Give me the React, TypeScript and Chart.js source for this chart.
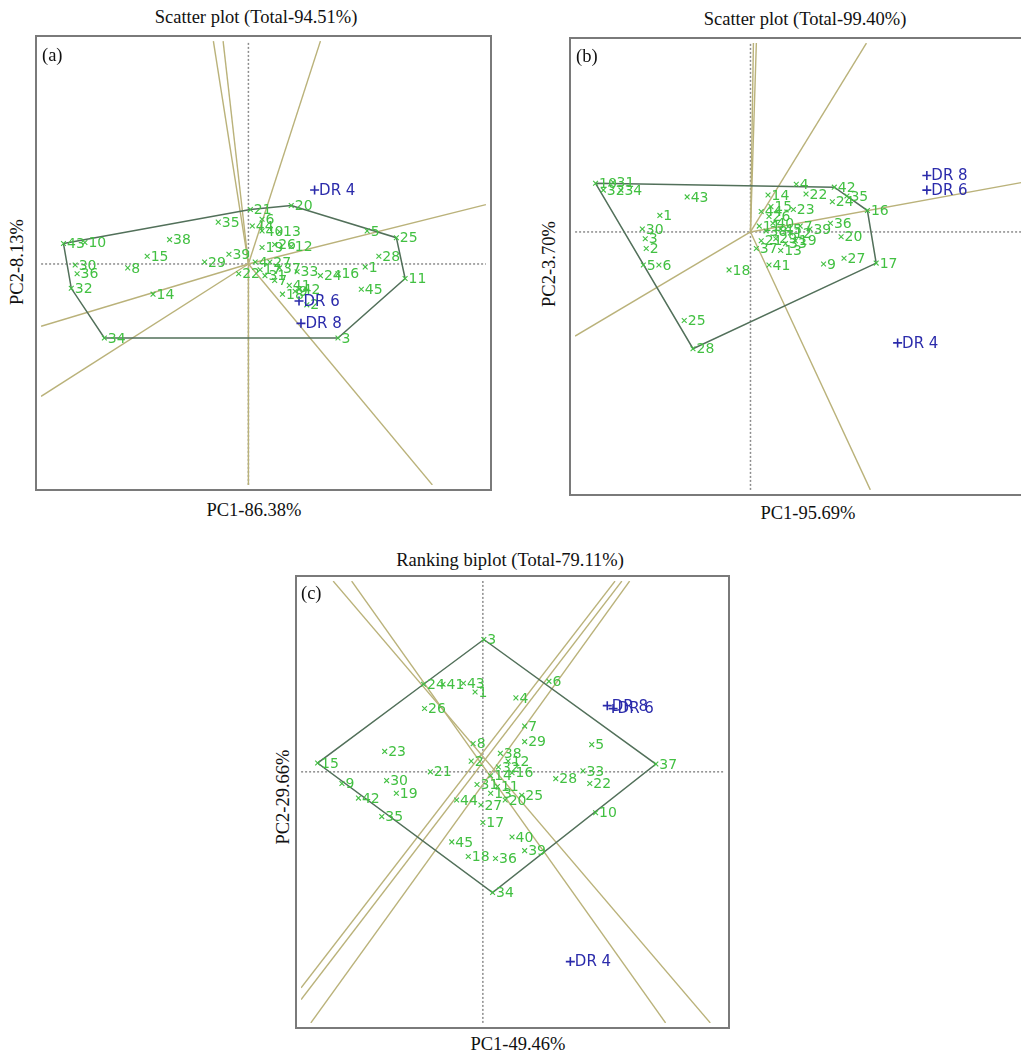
import React, { useEffect, useRef } from "react";
import { Chart, registerables } from "chart.js";

Chart.register(...registerables);

// ---------- Panel (a): scatter plot, PC1 86.38% / PC2 8.13% ----------
const A_GENOTYPES = ["43","10","30","36","32","8","15","38","29","39","14","34","35","21","6","20","40","13","19","26","12","5","25","28","11","1","45","3","33","24","16","27","37","31","41","9","2","4","7","17","22","18","42","44"];
const A_G_PC1 = [-19.0,-16.8,-17.8,-17.6,-18.2,-12.4,-10.4,-8.1,-4.5,-2.0,-9.8,-14.8,-3.1,0.2,1.4,4.4,1.4,3.2,1.4,2.7,4.4,12.2,15.2,13.4,16.1,12.0,11.6,9.2,5.0,7.4,9.2,2.2,3.2,1.7,4.2,4.8,6.0,0.7,2.7,1.2,-1.0,3.5,5.2,0.4];
const A_G_PC2 = [2.1,2.2,-0.1,-1.0,-2.5,-0.4,0.8,2.5,0.2,1.0,-3.1,-7.6,4.3,5.6,4.6,6.0,3.4,3.3,1.7,2.0,1.8,3.4,2.7,0.8,-1.5,-0.3,-2.6,-7.6,-0.8,-1.2,-1.0,0.2,-0.4,-1.2,-2.2,-2.8,-4.2,0.2,-1.7,-0.6,-1.0,-3.1,-2.6,3.9];
const A_ENVS = ["DR 4","DR 6","DR 8"];
const A_E_PC1 = [6.8,5.2,5.4];
const A_E_PC2 = [7.6,-3.8,-6.1];
const A_HULL = ["43","21","20","25","11","3","34","32"];
const A_RAY_PC1 = [-3.6,-2.6,7.4,24.4,-21.3,-21.3,0,18.9];
const A_RAY_PC2 = [22.9,22.9,22.9,6.1,-6.4,-13.6,-22.7,-22.7];

// ---------- Panel (b): scatter plot, PC1 95.69% / PC2 3.70% ----------
const B_GENOTYPES = ["10","31","32","34","43","1","30","3","2","5","6","18","41","9","27","17","25","28","16","42","22","24","35","23","36","20","4","14","15","26","40","38","45","29","33","21","12","11","7","13","44","19","37","39"];
const B_G_PC1 = [-15.9,-14.1,-15.1,-13.3,-6.5,-9.3,-11.1,-10.8,-10.7,-11.0,-9.4,-2.2,1.9,7.5,9.6,12.9,-6.8,-5.9,12.0,8.6,5.7,8.4,9.9,4.4,8.2,9.3,4.7,1.8,2.1,1.9,2.3,1.6,3.1,2.6,3.6,1.1,4.1,0.9,5.1,3.1,1.1,4.6,0.6,6.1];
const B_G_PC2 = [5.0,5.1,4.3,4.3,3.6,1.7,0.3,-0.7,-1.7,-3.4,-3.4,-3.9,-3.4,-3.3,-2.7,-3.2,-9.1,-12.0,2.2,4.6,3.9,3.1,3.7,2.3,0.9,-0.5,4.9,3.8,2.6,1.6,0.9,0.1,0.3,-0.7,-1.2,-0.9,-0.1,0.6,0.6,-1.9,2.1,-0.9,-1.7,0.3];
const B_ENVS = ["DR 8","DR 6","DR 4"];
const B_E_PC1 = [18.1,18.1,15.1];
const B_E_PC2 = [5.8,4.3,-11.4];
const B_HULL = ["10","42","16","17","28"];
const B_RAY_PC1 = [0.3,0.6,11.9,29.6,-18.0,12.3];
const B_RAY_PC2 = [19.4,19.4,19.4,5.4,-10.7,-26.5];

// ---------- Panel (c): ranking biplot, PC1 49.46% / PC2 29.66% ----------
const C_GENOTYPES = ["3","6","24","41","43","1","4","26","7","29","5","37","28","33","22","10","40","39","17","45","18","36","34","35","42","19","30","9","15","23","21","8","44","38","12","32","14","31","11","13","20","25","27","16","2"];
const C_G_PC1 = [0.1,6.8,-6.1,-4.1,-2.0,-0.8,3.4,-6.0,4.3,4.3,11.2,17.8,7.5,10.3,11.0,11.6,3.0,4.3,0.0,-3.2,-1.5,1.3,1.0,-10.4,-12.8,-8.9,-9.9,-14.5,-17.0,-10.1,-5.4,-1.0,-2.7,1.8,2.6,1.6,0.8,-0.6,1.5,0.8,2.3,4.0,-0.2,3.0,-1.2];
const C_G_PC2 = [13.6,9.3,9.0,9.0,9.1,8.2,7.6,6.5,4.7,3.1,2.8,0.8,-0.7,0.1,-1.2,-4.2,-6.7,-8.1,-5.2,-7.2,-8.7,-8.9,-12.4,-4.6,-2.7,-2.2,-0.9,-1.2,0.9,2.1,0.0,2.9,-2.9,1.9,1.1,0.5,-0.4,-1.3,-1.5,-2.2,-2.9,-2.4,-3.4,-0.1,1.1];
const C_ENVS = ["DR 8","DR 6","DR 4"];
const C_E_PC1 = [12.8,13.4,9.0];
const C_E_PC2 = [6.8,6.5,-19.5];
const C_HULL = ["3","37","34","15","24"];
const C_LINE_X1 = [-15.4,-13.5,13.6,15.1,14.3];
const C_LINE_Y1 = [19.6,19.6,19.6,19.6,19.6];
const C_LINE_X2 = [23.4,18.8,-18.7,-17.7,-18.7];
const C_LINE_Y2 = [-25.8,-25.8,-22.2,-25.8,-23.4];

const GREEN = "#42c042";
const BLUE = "#2b2bab";
const HULL = "#52705a";
const RAY = "#bab27a";
const AXIS = "#8c8c8c";
const SERIF = "'Liberation Serif', 'Times New Roman', serif";

type Seg = { x1: number; y1: number; x2: number; y2: number };

type PanelProps = {
  left: number; top: number; width: number; height: number;
  xmin: number; xmax: number; ymin: number; ymax: number;
  names: string[]; gx: number[]; gy: number[];
  envs: string[]; ex: number[]; ey: number[];
  hull: string[]; segs: Seg[];
};

// Writes genotype / environment names beside their markers
const pointLabels = {
  id: "pointLabels",
  afterDatasetsDraw(chart: any) {
    const ctx = chart.ctx;
    chart.data.datasets.forEach((ds: any, i: number) => {
      if (!ds.pointNames) return;
      const meta = chart.getDatasetMeta(i);
      ctx.save();
      ctx.font = ds.labelFont;
      ctx.fillStyle = ds.labelColor;
      ctx.textBaseline = "middle";
      meta.data.forEach((el: any, j: number) => {
        ctx.fillText(ds.pointNames[j], el.x + ds.labelDx, el.y + 1);
      });
      ctx.restore();
    });
  },
};

// Grey frame round the plotting area
const frame = {
  id: "frame",
  afterDraw(chart: any) {
    const { ctx, width, height } = chart;
    ctx.save();
    ctx.strokeStyle = "#7a7a7a";
    ctx.lineWidth = 2;
    ctx.strokeRect(1, 1, width - 2, height - 2);
    ctx.restore();
  },
};

function Biplot(p: PanelProps) {
  const ref = useRef<HTMLCanvasElement>(null);
  useEffect(() => {
    const datasets: any[] = [];
    // dotted PC axes through the origin
    datasets.push({
      data: [{ x: p.xmin, y: 0 }, { x: p.xmax, y: 0 }],
      showLine: true, borderColor: AXIS, borderWidth: 1.5, borderDash: [2, 2],
      pointRadius: 0, order: 4,
    });
    datasets.push({
      data: [{ x: 0, y: p.ymin }, { x: 0, y: p.ymax }],
      showLine: true, borderColor: AXIS, borderWidth: 1.5, borderDash: [2, 2],
      pointRadius: 0, order: 4,
    });
    // sector rays / ranking lines
    p.segs.forEach((s) => {
      datasets.push({
        data: [{ x: s.x1, y: s.y1 }, { x: s.x2, y: s.y2 }],
        showLine: true, borderColor: RAY, borderWidth: 1.4,
        pointRadius: 0, order: 3,
      });
    });
    // convex hull of the genotypes
    const hullPts = p.hull.map((n) => {
      const k = p.names.indexOf(n);
      return { x: p.gx[k], y: p.gy[k] };
    });
    hullPts.push(hullPts[0]);
    datasets.push({
      data: hullPts, showLine: true, borderColor: HULL, borderWidth: 1.5,
      pointRadius: 0, order: 2,
    });
    // genotypes
    datasets.push({
      data: p.gx.map((x, i) => ({ x, y: p.gy[i] })),
      pointStyle: "crossRot", pointRadius: 3.4, borderColor: GREEN, borderWidth: 1.1,
      backgroundColor: GREEN, showLine: false, order: 1,
      pointNames: p.names, labelFont: "14px 'DejaVu Sans', sans-serif",
      labelColor: GREEN, labelDx: 3.5,
    });
    // environments
    datasets.push({
      data: p.ex.map((x, i) => ({ x, y: p.ey[i] })),
      pointStyle: "cross", pointRadius: 4.5, borderColor: BLUE, borderWidth: 1.6,
      backgroundColor: BLUE, showLine: false, order: 0,
      pointNames: p.envs, labelFont: "15px 'DejaVu Sans', sans-serif",
      labelColor: BLUE, labelDx: 4.5,
    });

    const chart = new Chart(ref.current as HTMLCanvasElement, {
      type: "scatter",
      data: { datasets },
      options: {
        responsive: false,
        maintainAspectRatio: false,
        animation: false,
        layout: { padding: 0 },
        plugins: { legend: { display: false }, tooltip: { enabled: false } },
        scales: {
          x: { type: "linear", min: p.xmin, max: p.xmax, display: false },
          y: { type: "linear", min: p.ymin, max: p.ymax, display: false },
        },
      } as any,
      plugins: [pointLabels, frame],
    });
    return () => chart.destroy();
  }, []);
  return (
    <canvas
      ref={ref}
      width={p.width}
      height={p.height}
      style={{ position: "absolute", left: p.left, top: p.top, width: p.width, height: p.height }}
    />
  );
}

function Text(props: { x: number; y: number; text: string; rotate?: boolean; size?: number; anchor?: "start" | "middle" }) {
  const size = props.size ?? 18.5;
  const transform = props.rotate
    ? "translate(-50%, -50%) rotate(-90deg)"
    : props.anchor === "start" ? "translate(0, -50%)" : "translate(-50%, -50%)";
  return (
    <div
      style={{
        position: "absolute", left: props.x, top: props.y, transform,
        fontFamily: SERIF, fontSize: size, color: "#111", whiteSpace: "nowrap", lineHeight: 1,
      }}
    >
      {props.text}
    </div>
  );
}

const toSegsFromOrigin = (xs: number[], ys: number[]): Seg[] =>
  xs.map((x, i) => ({ x1: 0, y1: 0, x2: x, y2: ys[i] }));

export default function App() {
  const cSegs: Seg[] = C_LINE_X1.map((x, i) => ({ x1: x, y1: C_LINE_Y1[i], x2: C_LINE_X2[i], y2: C_LINE_Y2[i] }));
  return (
    <div style={{ position: "fixed", left: 0, top: 0, width: 1021, height: 1055, overflow: "hidden", background: "#fff" }}>
      {/* (a) */}
      <Text x={256} y={17} text="Scatter plot (Total-94.51%)" />
      <Biplot
        left={35} top={35} width={457} height={456}
        xmin={-21.3} xmax={24.4} ymin={-22.7} ymax={22.9}
        names={A_GENOTYPES} gx={A_G_PC1} gy={A_G_PC2}
        envs={A_ENVS} ex={A_E_PC1} ey={A_E_PC2}
        hull={A_HULL} segs={toSegsFromOrigin(A_RAY_PC1, A_RAY_PC2)}
      />
      <Text x={42} y={55} text="(a)" anchor="start" />
      <Text x={254} y={510} text="PC1-86.38%" />
      <Text x={17} y={262} text="PC2-8.13%" rotate />

      {/* (b) */}
      <Text x={805} y={19} text="Scatter plot (Total-99.40%)" />
      <Biplot
        left={569} top={37} width={476} height={459}
        xmin={-18.0} xmax={29.6} ymin={-26.5} ymax={19.4}
        names={B_GENOTYPES} gx={B_G_PC1} gy={B_G_PC2}
        envs={B_ENVS} ex={B_E_PC1} ey={B_E_PC2}
        hull={B_HULL} segs={toSegsFromOrigin(B_RAY_PC1, B_RAY_PC2)}
      />
      <Text x={576} y={56} text="(b)" anchor="start" />
      <Text x={808} y={513} text="PC1-95.69%" />
      <Text x={549} y={264} text="PC2-3.70%" rotate />

      {/* (c) */}
      <Text x={510} y={560} text="Ranking biplot (Total-79.11%)" />
      <Biplot
        left={295} top={575} width={435} height={454}
        xmin={-18.7} xmax={24.8} ymin={-25.8} ymax={19.6}
        names={C_GENOTYPES} gx={C_G_PC1} gy={C_G_PC2}
        envs={C_ENVS} ex={C_E_PC1} ey={C_E_PC2}
        hull={C_HULL} segs={cSegs}
      />
      <Text x={301} y={593} text="(c)" anchor="start" />
      <Text x={518} y={1044} text="PC1-49.46%" />
      <Text x={283} y={797} text="PC2-29.66%" rotate />
    </div>
  );
}
